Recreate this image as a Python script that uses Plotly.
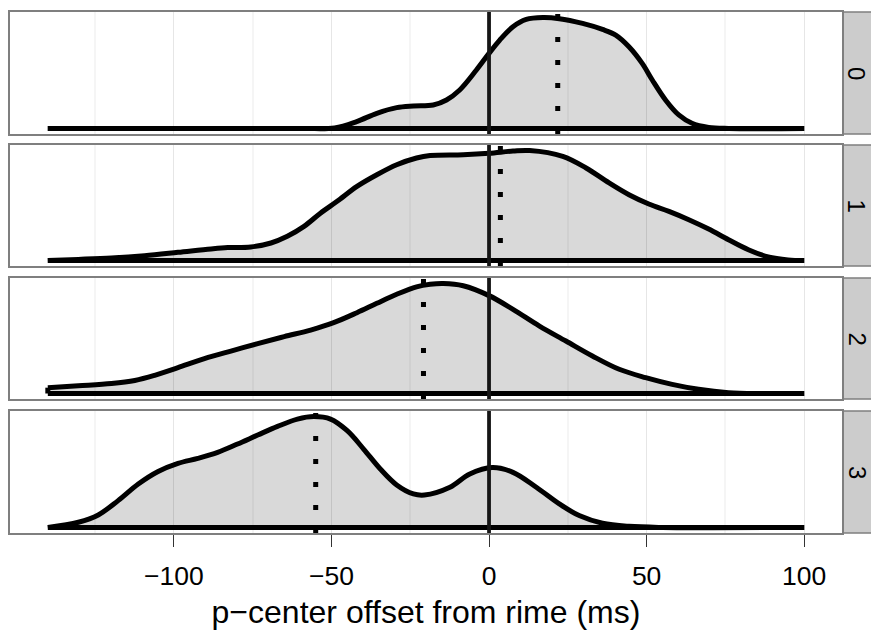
import plotly.graph_objects as go

# Facet labels (number of something per condition) and the density curves,
# given as x positions (ms) and density heights relative to each facet's peak.
facets = ["0", "1", "2", "3"]

x_f0 = [-140, -60, -49, -42, -35.6, -29.3, -24, -17.7, -13.5, -9.3, -4, 0, 3.4, 7.6,
        11.8, 17.1, 22.3, 29.7, 36, 40.2, 44.4, 48.6, 51.8, 56, 60.2, 64.4, 69.7, 76, 100]
d_f0 = [0, 0, 0.005, 0.062, 0.137, 0.188, 0.203, 0.212, 0.257, 0.347, 0.527, 0.677, 0.797,
        0.917, 0.983, 1.0, 0.99, 0.947, 0.893, 0.842, 0.737, 0.587, 0.437, 0.257, 0.122,
        0.047, 0.01, 0, 0]

x_f1 = [-140, -130.3, -119.8, -109.3, -98.7, -88.2, -82.9, -75.6, -69.2, -64, -58.7, -53.5,
        -48.2, -41.9, -35.6, -29.3, -23, -18.7, -8.2, 0, 7.6, 12.9, 23.4, 30.8, 38.1, 44.4,
        50.7, 57.1, 63.4, 69.7, 76, 82.3, 88.6, 94.9, 100]
d_f1 = [0, 0.01, 0.023, 0.044, 0.074, 0.105, 0.117, 0.123, 0.159, 0.22, 0.31, 0.43, 0.538,
        0.674, 0.78, 0.871, 0.932, 0.955, 0.962, 0.975, 0.995, 1.0, 0.947, 0.841, 0.705,
        0.598, 0.514, 0.447, 0.371, 0.286, 0.189, 0.098, 0.032, 0.005, 0]

x_f2 = [-140, -130.3, -119.8, -112.4, -106.1, -98.7, -90.3, -81.9, -73.4, -65, -56.6, -49.3,
        -41.9, -35.6, -29.3, -23, -18.7, -14.5, -8.2, 0, 7.6, 16, 24.4, 32.8, 41.3, 49.7,
        58.1, 66.5, 76, 86.5, 100]
d_f2 = [0.053, 0.07, 0.09, 0.118, 0.165, 0.235, 0.317, 0.386, 0.453, 0.517, 0.577, 0.644,
        0.735, 0.82, 0.902, 0.97, 0.993, 1.0, 0.98, 0.89, 0.765, 0.613, 0.477, 0.341, 0.22,
        0.144, 0.083, 0.038, 0.008, 0.0, 0]

x_f3 = [-140, -130.3, -124, -117.7, -111.3, -105, -98.7, -92.4, -86.1, -79.8, -73.4, -67.1,
        -60.8, -55.6, -50.3, -45, -39.8, -34.5, -29.3, -24, -20.5, -12.4, -6.1, 1, 7.6, 15,
        22.3, 28.6, 36, 44.4, 55, 100]
d_f3 = [0, 0.047, 0.113, 0.242, 0.392, 0.505, 0.578, 0.623, 0.677, 0.752, 0.833, 0.911,
        0.977, 1.0, 0.977, 0.872, 0.707, 0.527, 0.383, 0.302, 0.292, 0.362, 0.482, 0.54,
        0.497, 0.362, 0.212, 0.107, 0.038, 0.01, 0, 0]

# Mean offset per facet (dotted lines) and the reference at zero (solid line)
means = [21.8, 3.6, -20.8, -55.0]
reference = 0

tick_vals = [-100, -50, 0, 50, 100]
tick_text = ["\u2212100", "\u221250", "0", "50", "100"]
minor_vals = [-125, -75, -25, 25, 75]
x_title = "p\u2212center offset from rime (ms)"

curves = [(x_f0, d_f0), (x_f1, d_f1), (x_f2, d_f2), (x_f3, d_f3)]

# vertical placement of the four stacked panels (paper fractions)
domains = [[0.7658, 1.0], [0.5125, 0.7447], [0.2572, 0.4894], [0.0, 0.2342]]

FONT = "Liberation Sans, Arial, Helvetica, sans-serif"
BORDER = "#7f7f7f"
LW = 5

fig = go.Figure()
layout = dict(
    width=871, height=630,
    margin=dict(l=10, r=29, t=12, b=97),
    paper_bgcolor="white", plot_bgcolor="white",
    showlegend=False,
    font=dict(family=FONT, color="black"),
    shapes=[], annotations=[],
)

for i, (xs, ds) in enumerate(curves):
    n = "" if i == 0 else str(i + 1)
    xa, ya = "x" + n, "y" + n
    # density: filled area with thick outline
    fig.add_trace(go.Scatter(
        x=xs, y=ds, mode="lines", xaxis=xa, yaxis=ya,
        line=dict(color="black", width=LW, shape="spline", smoothing=1.0),
        fill="tozeroy", fillcolor="rgba(0,0,0,0.15)", hoverinfo="skip"))
    # bottom edge of the density polygon
    fig.add_trace(go.Scatter(
        x=[xs[0], xs[-1]], y=[0, 0], mode="lines", xaxis=xa, yaxis=ya,
        line=dict(color="black", width=LW), hoverinfo="skip"))
    if ds[0] > 0:
        fig.add_trace(go.Scatter(
            x=[xs[0], xs[0]], y=[0, ds[0]], mode="lines", xaxis=xa, yaxis=ya,
            line=dict(color="black", width=LW), hoverinfo="skip"))

    is_bottom = i == len(curves) - 1
    layout["xaxis" + n] = dict(
        anchor=ya, range=[-152, 112], domain=[0, 1], automargin=False,
        showgrid=True, gridcolor="#e6e6e6", gridwidth=1,
        tickvals=tick_vals, ticktext=tick_text,
        minor=dict(tickvals=minor_vals, showgrid=True, gridcolor="#f5f5f5",
                   gridwidth=1.5, ticks=""),
        zeroline=False, showline=True, mirror=True, linecolor=BORDER, linewidth=1.5,
        showticklabels=is_bottom,
        ticks="outside" if is_bottom else "", ticklen=12, tickwidth=1, tickcolor="#333333",
        tickfont=dict(size=26.5, color="black", family=FONT),
        ticklabelstandoff=6,
    )
    if not is_bottom:
        layout["xaxis" + n]["matches"] = "x4"
    else:
        layout["xaxis" + n]["title"] = dict(text=x_title, font=dict(size=32, family=FONT),
                                            standoff=12)
    layout["yaxis" + n] = dict(
        anchor=xa, domain=domains[i], range=[-0.05, 1.05], automargin=False,
        showgrid=False, zeroline=False, showticklabels=False, ticks="",
        showline=True, mirror=True, linecolor=BORDER, linewidth=1.5,
    )

    # solid reference line at zero and dotted mean line
    layout["shapes"].append(dict(
        type="line", xref=xa, yref=ya + " domain", x0=reference, x1=reference, y0=0, y1=1,
        line=dict(color="#151515", width=3.8)))
    layout["shapes"].append(dict(
        type="line", xref=xa, yref=ya + " domain", x0=means[i], x1=means[i], y0=0, y1=1,
        line=dict(color="black", width=5, dash="5px,18px")))

    # facet strip on the right
    layout["shapes"].append(dict(
        type="rect", xref="paper", yref="paper", x0=1.0015, x1=1.07,
        y0=domains[i][0], y1=domains[i][1],
        fillcolor="#cccccc", line=dict(color=BORDER, width=1.5), layer="below"))
    layout["annotations"].append(dict(
        xref="paper", yref="paper", x=(857 - 10) / 832, y=sum(domains[i]) / 2,
        text=facets[i], showarrow=False, textangle=90,
        font=dict(size=24, color="black", family=FONT),
        xanchor="center", yanchor="middle"))

fig.update_layout(**layout)
fig.write_html("out.html")
